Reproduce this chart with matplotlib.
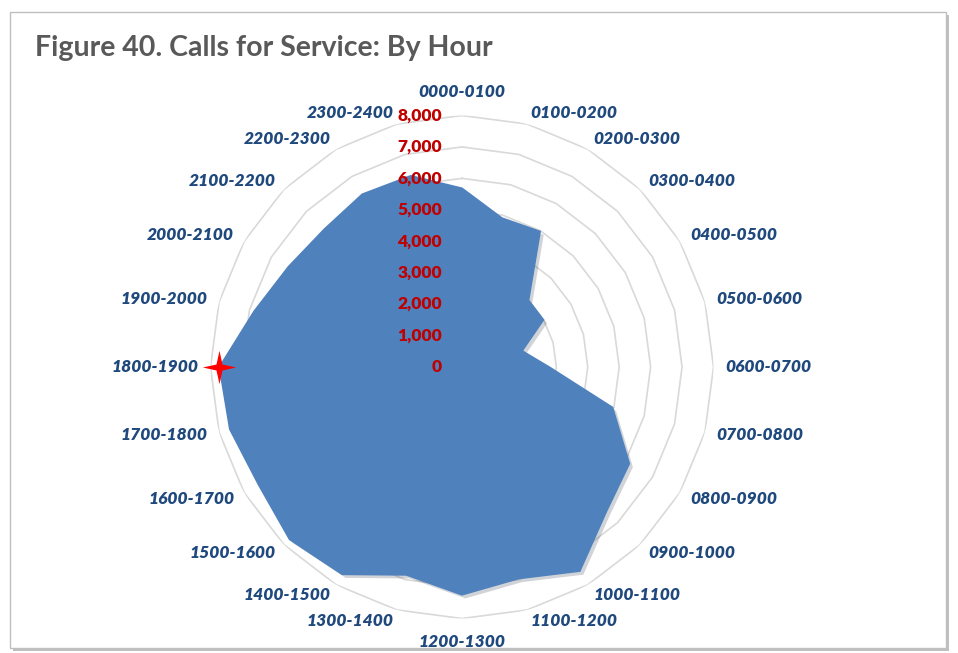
import matplotlib
matplotlib.use("Agg")
import numpy as np
import matplotlib.pyplot as plt
from matplotlib import patheffects, transforms
from matplotlib.patches import Rectangle
from matplotlib.path import Path

# Calls for service per hour block, clockwise from midnight
hours = [
    "0000-0100", "0100-0200", "0200-0300", "0300-0400", "0400-0500", "0500-0600",
    "0600-0700", "0700-0800", "0800-0900", "0900-1000", "1000-1100", "1100-1200",
    "1200-1300", "1300-1400", "1400-1500", "1500-1600", "1600-1700", "1700-1800",
    "1800-1900", "1900-2000", "2000-2100", "2100-2200", "2200-2300", "2300-2400",
]
calls = [
    5690, 4910, 4980, 3000, 2995, 1985,
    2780, 4960, 6150, 6500, 7500, 6970,
    7250, 6850, 7620, 7760, 7480, 7650,
    7720, 6850, 6380, 6200, 6350, 6300,
]
rings = [0, 1000, 2000, 3000, 4000, 5000, 6000, 7000, 8000]
highlight = "1800-1900"

FONT = "Lato"
W, H = 958, 653

fig = plt.figure(figsize=(W / 100, H / 100), dpi=100)

# chart frame with a soft drop shadow, kept behind the plot
frame = Rectangle((10 / W, 1 - 648 / H), 936 / W, 636 / H, transform=fig.transFigure,
                  facecolor="white", edgecolor="#BFBFBF", lw=1.0, zorder=-5,
                  path_effects=[patheffects.SimplePatchShadow(offset=(2, -2), alpha=0.35),
                                patheffects.Normal()])
fig.patches.append(frame)

fig.text(35 / W, 1 - 48 / H, "Figure 40. Calls for Service: By Hour", ha="left", va="center",
         fontsize=20.5, fontweight="bold", color="#595959", family=FONT)

cx, cy, rad = 462, 367, 251.5
ax = fig.add_axes([(cx - rad) / W, 1 - (cy + rad) / H, 2 * rad / W, 2 * rad / H],
                  projection="polar")
ax.set_theta_zero_location("N")
ax.set_theta_direction(-1)
ax.set_ylim(0, rings[-1])
ax.set_axis_off()

n = len(hours)
theta = np.arange(n) * 2 * np.pi / n
theta_c = np.append(theta, theta[0])

for v in rings[1:]:
    ax.plot(theta_c, [v] * (n + 1), color="#D9D9D9", lw=1.2, zorder=1)

vals_c = np.append(calls, calls[0])
ax.fill(theta_c, vals_c, color="#4F81BD", zorder=2,
        path_effects=[patheffects.SimplePatchShadow(offset=(2.5, -2.5), alpha=0.2),
                      patheffects.Normal()])

# thin four-pointed star on the highlighted hour
k = 0.18
star = Path([(0, 1), (k, k), (1, 0), (k, -k), (0, -1), (-k, -k), (-1, 0), (-k, k), (0, 1)],
            closed=True)
hi = hours.index(highlight)
ax.plot([theta[hi]], [calls[hi]], marker=star, markersize=24, color="red",
        markeredgewidth=0, zorder=5, clip_on=False)

for th, lab in zip(theta, hours):
    s = np.sin(th)
    if abs(s) < 1e-6:
        ha, r = "center", 8750
    else:
        ha, r = ("left" if s > 0 else "right"), 8370
    ax.text(th, r, lab, ha=ha, va="center", fontsize=12.5, fontweight="heavy",
            fontstyle="italic", color="#1F497D", family=FONT, clip_on=False)

off = transforms.offset_copy(ax.transData, fig=fig, x=-20, y=0, units="dots")
for v in rings:
    ax.text(0, v, f"{v:,}", ha="right", va="center", fontsize=12.5, fontweight="heavy",
            color="#C00000", family=FONT, transform=off, zorder=6, clip_on=False)

fig.savefig("out.png", dpi=100)
